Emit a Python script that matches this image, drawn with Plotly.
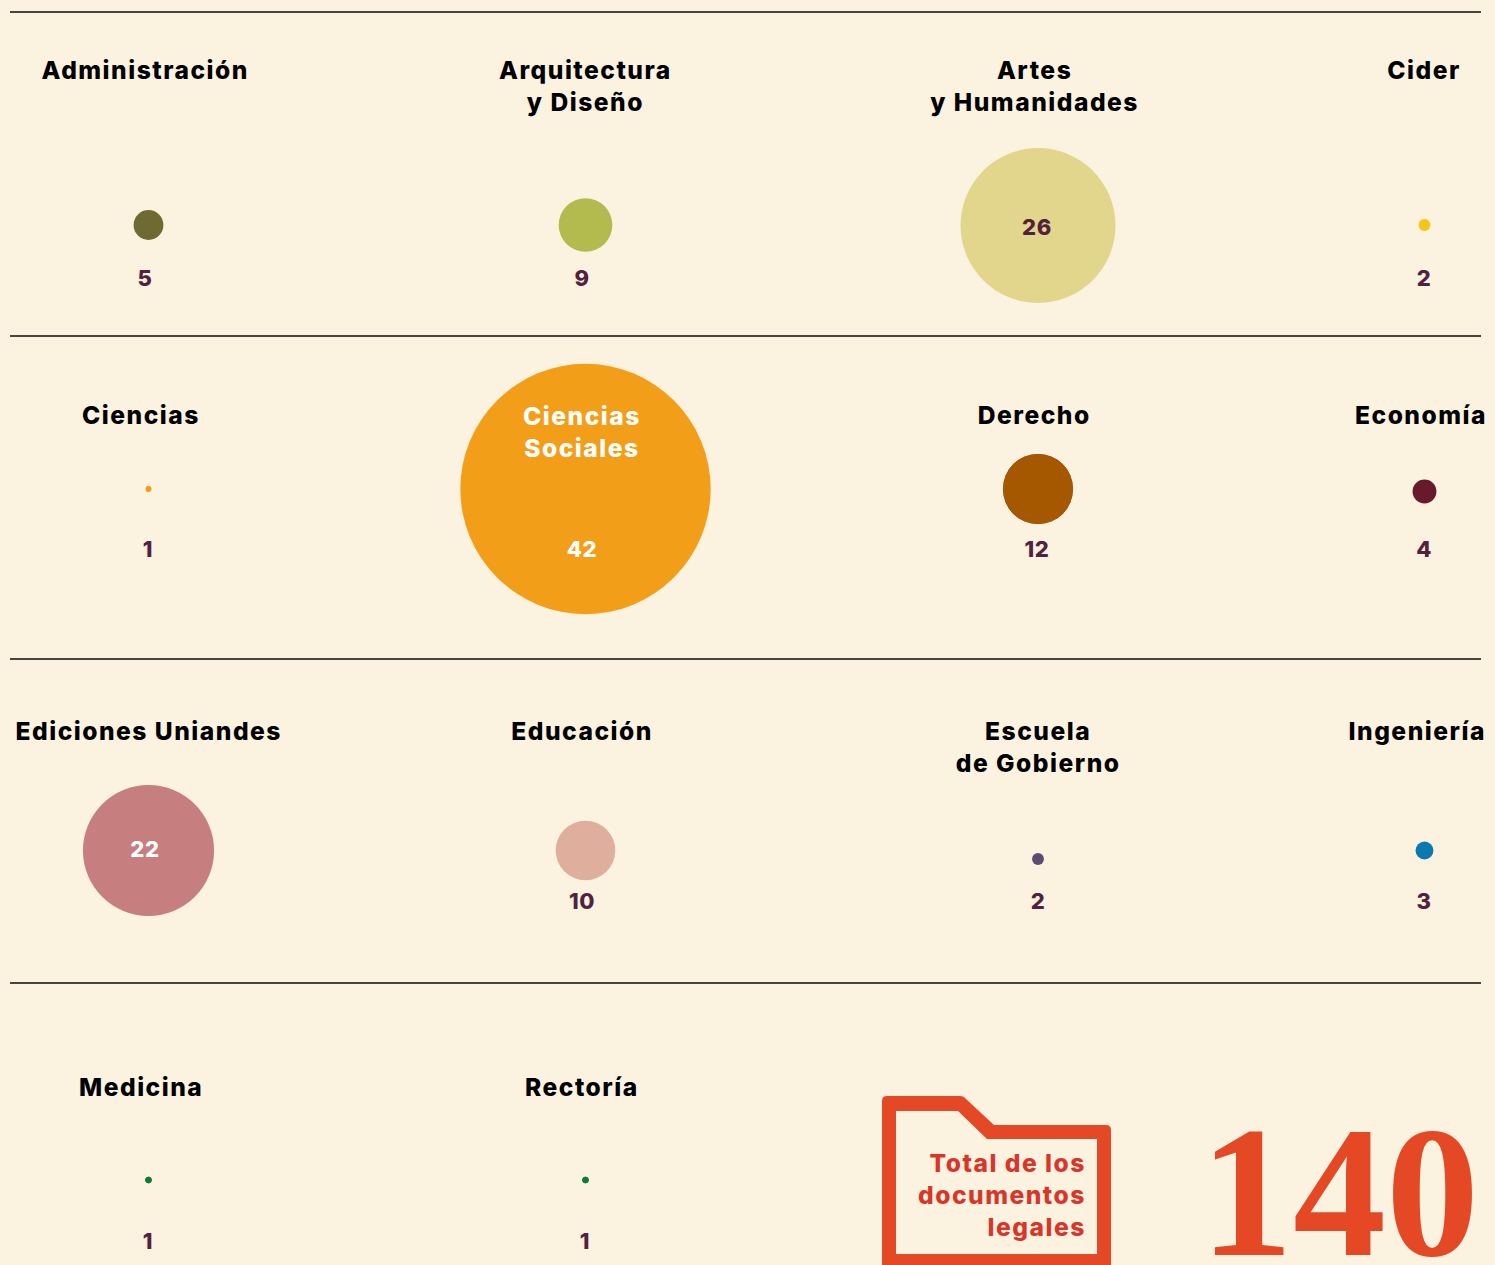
import plotly.graph_objects as go

# ---- data ----
categories = ["Administración", "Arquitectura<br>y Diseño", "Artes<br>y Humanidades", "Cider",
              "Ciencias", "Ciencias<br>Sociales", "Derecho", "Economía",
              "Ediciones Uniandes", "Educación", "Escuela<br>de Gobierno", "Ingeniería",
              "Medicina", "Rectoría"]
values = [5, 9, 26, 2, 1, 42, 12, 4, 22, 10, 2, 3, 1, 1]
total = 140
total_label = "Total de los<br>documentos<br>legales"

# ---- layout and style ----
colors = ["#6E6A31", "#B4BB4E", "#E2D68C", "#F5C518", "#F39C12", "#F39E19", "#A65800", "#661A2B",
          "#C67E7E", "#DFAE9C", "#5B4A73", "#0A79B0", "#0A7A35", "#0A7A35"]
outline_col = list(colors)
outline_col[6] = "#FFFFFF"
outline_w = [0] * 14
outline_w[6] = 1
outline_w[12] = 1
outline_w[13] = 1
cx = [148.5, 585.5, 1038, 1424.5, 148.5, 585.5, 1038, 1424.5, 148.5, 585.5, 1038, 1424.5, 148.5, 585.5]
cy = [225, 225, 225.5, 225, 489, 489, 489, 491.5, 850.5, 850.5, 859, 850.5, 1180, 1180]
label_x = [145, 585, 1034, 1424, 141, 582, 1034, 1421, 148, 582, 1038, 1417, 141, 582]
label_y = [70, 86, 86, 70, 415, 432, 415, 415, 731, 731, 747, 731, 1087, 1087]
label_col = ["#000000"] * 14
label_col[5] = "#FFFFFF"
value_x = [145, 582, 1037, 1424, 148, 582, 1037, 1424, 145, 582, 1038, 1424, 148, 585]
value_y = [280, 280, 229, 280, 551, 551, 551, 551, 851, 903, 903, 903, 1243, 1243]
value_col = ["#52213F"] * 14
value_col[5] = "#FFFFFF"
value_col[8] = "#FFFFFF"
rules_y = [12, 336, 659, 983]
BG = "#FBF2E0"
RED = "#E54824"
FONT = "Inter"
PX_PER_UNIT = 5.96

fig = go.Figure()
fig.add_trace(go.Scatter(
    x=cx, y=cy, mode="markers", hoverinfo="skip", showlegend=False,
    marker=dict(size=[v * PX_PER_UNIT for v in values], color=colors, opacity=1,
                line=dict(width=outline_w, color=outline_col), sizemode="diameter"),
))
fig.add_trace(go.Scatter(
    x=value_x, y=value_y, mode="text", text=[str(v) for v in values], hoverinfo="skip", showlegend=False,
    textposition="middle center",
    textfont=dict(family=FONT, size=22, color=value_col, weight=800),
))

shapes = [dict(type="line", x0=10, x1=1481, y0=y, y1=y, line=dict(color="#0A0A08", width=1.5), layer="below")
          for y in rules_y]

folder = ("M882 1101 Q882 1096 887 1096 L960 1096 Q964 1096 966 1099 L994 1125 L1106 1125 Q1111 1125 1111 1130 "
          "L1111 1275 L882 1275 Z "
          "M896 1111 L896 1254 L1097 1254 L1097 1139 L987 1139 L958 1111 Z")
shapes.append(dict(type="path", path=folder, fillcolor=RED, line=dict(width=0), fillrule="evenodd", layer="below"))

annotations = []
for t, x, y, c in zip(categories, label_x, label_y, label_col):
    annotations.append(dict(x=x, y=y, text=t, showarrow=False, xanchor="center", yanchor="middle", align="center",
                            font=dict(family=FONT, size=24.6, color=c, weight=800)))
annotations.append(dict(x=1088, y=1195, text=total_label, showarrow=False, xanchor="right", yanchor="middle",
                        align="right", font=dict(family=FONT, size=24.6, color="#D9362A", weight=800)))
annotations.append(dict(x=1339, y=1192, text=str(total), showarrow=False, xanchor="center", yanchor="middle",
                        font=dict(family="Liberation Serif", size=186, color=RED, weight=700)))

fig.update_layout(
    width=1495, height=1265, margin=dict(l=0, r=0, t=0, b=0),
    paper_bgcolor=BG, plot_bgcolor=BG, showlegend=False,
    xaxis=dict(range=[0, 1495], visible=False, fixedrange=True),
    yaxis=dict(range=[1265, 0], visible=False, fixedrange=True),
    shapes=shapes, annotations=annotations,
)
post = """
document.body.style.margin='0';document.body.style.background='%s';document.body.style.overflow='hidden';
document.querySelectorAll('.annotation-text').forEach(function(t){
  if(t.textContent!=='%d'){t.style.letterSpacing='1.5px';}
});
document.querySelectorAll('.textpoint text').forEach(function(t){t.style.letterSpacing='0.6px';});
""" % (BG, total)
fig.write_html("out.html", config=dict(displayModeBar=False), post_script=post)
